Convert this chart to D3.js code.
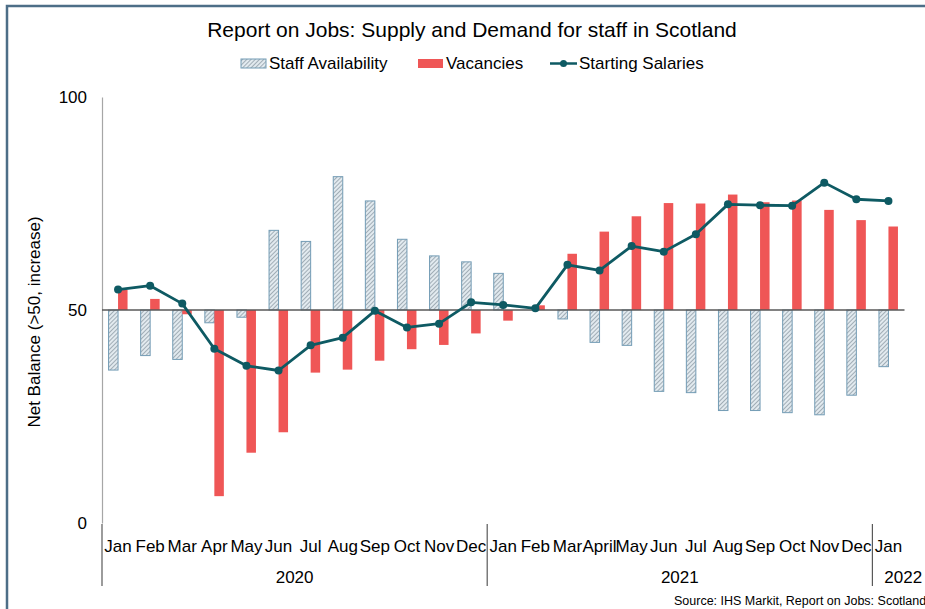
<!DOCTYPE html>
<html>
<head>
<meta charset="utf-8">
<script src="https://cdn.jsdelivr.net/npm/d3@7"></script>
<style>
  body { margin: 0; background: #fff; }
  text { font-family: "Liberation Sans", Arial, sans-serif; fill: #000; }
</style>
</head>
<body>
<div id="vis"></div>
<script>
// data (net balance, 50 = no change)
var months = ["Jan", "Feb", "Mar", "Apr", "May", "Jun", "Jul", "Aug", "Sep", "Oct", "Nov", "Dec",
  "Jan", "Feb", "Mar", "April", "May", "Jun", "Jul", "Aug", "Sep", "Oct", "Nov", "Dec", "Jan"];
var years = ["2020", "2021", "2022"];
var yearStart = [0, 12, 24];
var staffAvailability = [35.9, 39.3, 38.4, 47.0, 48.3, 68.7, 66.1, 81.3, 75.6, 66.6, 62.7, 61.3,
  58.6, 50.0, 47.9, 42.4, 41.7, 30.9, 30.6, 26.4, 26.4, 25.9, 25.4, 30.0, 36.7];
var vacancies = [54.7, 52.6, 49.0, 6.3, 16.5, 21.3, 35.3, 36.0, 38.1, 40.8, 41.8, 44.5,
  47.5, 51.1, 63.2, 68.4, 72.0, 75.1, 75.0, 77.1, 75.3, 75.7, 73.5, 71.1, 69.6];
var startingSalaries = [54.8, 55.7, 51.5, 40.9, 36.9, 35.8, 41.7, 43.5, 49.8, 45.9, 46.8, 51.8,
  51.2, 50.4, 60.6, 59.3, 65.0, 63.7, 67.8, 74.8, 74.6, 74.5, 79.9, 76.0, 75.6];
var yTicks = [0, 50, 100];

var w = 925;
var h = 609;

var svg = d3.select("#vis").append("svg").attr("width", w).attr("height", h);

// hatch for staff availability
var pat = svg.append("defs").append("pattern")
  .attr("id", "hatch")
  .attr("patternUnits", "userSpaceOnUse")
  .attr("width", 3)
  .attr("height", 3)
  .attr("patternTransform", "rotate(45)");
pat.append("rect").attr("width", 3).attr("height", 3).attr("fill", "#e2eaef");
pat.append("line").attr("x1", 0).attr("y1", 0).attr("x2", 0).attr("y2", 3)
  .attr("stroke", "#7d8c97").attr("stroke-width", 1.3);

// frame
svg.append("rect")
  .attr("x", 7).attr("y", 6)
  .attr("width", 960).attr("height", 640)
  .attr("fill", "none")
  .attr("stroke", "#4d6e87")
  .attr("stroke-width", 2.5);

var x = d3.scaleBand().domain(d3.range(months.length)).range([102, 904.5]);
var bw = x.bandwidth();
var x1 = d3.scaleBand().domain(["staff", "vac"]).range([bw / 2 - 9.5, bw / 2 + 9.5]);
var y = d3.scaleLinear().domain([0, 100]).range([523, 97]);

// title
svg.append("text")
  .attr("x", 472).attr("y", 37)
  .attr("text-anchor", "middle")
  .style("font-size", "21px")
  .text("Report on Jobs: Supply and Demand for staff in Scotland");

// legend
svg.append("rect").attr("x", 241).attr("y", 59).attr("width", 25).attr("height", 9)
  .attr("fill", "url(#hatch)").attr("stroke", "#739cb5").attr("stroke-width", 1);
svg.append("text").attr("x", 269).attr("y", 69).style("font-size", "17px").text("Staff Availability");
svg.append("rect").attr("x", 418).attr("y", 59).attr("width", 25).attr("height", 9)
  .attr("fill", "#ef5656");
svg.append("text").attr("x", 446).attr("y", 69).style("font-size", "17px").text("Vacancies");
svg.append("line").attr("x1", 550).attr("x2", 577).attr("y1", 63.5).attr("y2", 63.5)
  .attr("stroke", "#0e5a63").attr("stroke-width", 2.5);
svg.append("circle").attr("cx", 563.5).attr("cy", 63.5).attr("r", 3.5).attr("fill", "#0e5a63");
svg.append("text").attr("x", 579).attr("y", 69).style("font-size", "17px").text("Starting Salaries");

// y axis
var yAxis = svg.append("g")
  .attr("transform", "translate(102,0)")
  .call(d3.axisLeft(y).tickValues(yTicks).tickSize(0).tickPadding(15));
yAxis.select(".domain").attr("stroke", "#a6a6a6").attr("stroke-width", 1.2);
yAxis.selectAll("text")
  .style("font-size", "17px")
  .style("font-family", "'Liberation Sans', Arial, sans-serif")
  .attr("fill", "#000");

svg.append("text")
  .attr("transform", "translate(40,322) rotate(-90)")
  .attr("text-anchor", "middle")
  .style("font-size", "17px")
  .text("Net Balance (>50, increase)");

// staff availability bars
svg.selectAll(".staff")
  .data(staffAvailability)
  .enter()
  .append("rect")
  .attr("class", "staff")
  .attr("x", function (d, i) { return x(i) + x1("staff"); })
  .attr("y", function (d) { return y(Math.max(d, 50)); })
  .attr("width", x1.bandwidth())
  .attr("height", function (d) { return Math.abs(y(d) - y(50)); })
  .attr("fill", "url(#hatch)")
  .attr("stroke", "#739cb5")
  .attr("stroke-width", 1);

// vacancies bars
svg.selectAll(".vac")
  .data(vacancies)
  .enter()
  .append("rect")
  .attr("class", "vac")
  .attr("x", function (d, i) { return x(i) + x1("vac"); })
  .attr("y", function (d) { return y(Math.max(d, 50)); })
  .attr("width", x1.bandwidth())
  .attr("height", function (d) { return Math.abs(y(d) - y(50)); })
  .attr("fill", "#ef5656");

// 50 baseline
svg.append("line")
  .attr("x1", 102).attr("x2", 904.5)
  .attr("y1", y(50)).attr("y2", y(50))
  .attr("stroke", "#595959")
  .attr("stroke-width", 1.5);

// starting salaries line
var line = d3.line()
  .x(function (d, i) { return x(i) + bw / 2; })
  .y(function (d) { return y(d); });

svg.append("path")
  .datum(startingSalaries)
  .attr("d", line)
  .attr("fill", "none")
  .attr("stroke", "#0e5a63")
  .attr("stroke-width", 2.8)
  .attr("stroke-linejoin", "round");

svg.selectAll(".pt")
  .data(startingSalaries)
  .enter()
  .append("circle")
  .attr("class", "pt")
  .attr("cx", function (d, i) { return x(i) + bw / 2; })
  .attr("cy", function (d) { return y(d); })
  .attr("r", 4)
  .attr("fill", "#0e5a63");

// month labels
svg.selectAll(".month")
  .data(months)
  .enter()
  .append("text")
  .attr("class", "month")
  .attr("x", function (d, i) { return x(i) + bw / 2; })
  .attr("y", 552)
  .attr("text-anchor", "middle")
  .style("font-size", "17px")
  .text(function (d) { return d; });

// year separators
svg.selectAll(".sep")
  .data(yearStart)
  .enter()
  .append("line")
  .attr("class", "sep")
  .attr("x1", function (d) { return x(d); })
  .attr("x2", function (d) { return x(d); })
  .attr("y1", 524)
  .attr("y2", 586)
  .attr("stroke", "#595959")
  .attr("stroke-width", 1.2);

// year labels
svg.selectAll(".year")
  .data(years)
  .enter()
  .append("text")
  .attr("class", "year")
  .attr("x", function (d, i) {
    var a = x(yearStart[i]);
    var b = i < years.length - 1 ? x(yearStart[i + 1]) : 934;
    return (a + b) / 2;
  })
  .attr("y", 583)
  .attr("text-anchor", "middle")
  .style("font-size", "17px")
  .text(function (d) { return d; });

// source
svg.append("text")
  .attr("x", 674).attr("y", 605)
  .style("font-size", "12.5px")
  .text("Source: IHS Markit, Report on Jobs: Scotland");
</script>
</body>
</html>
